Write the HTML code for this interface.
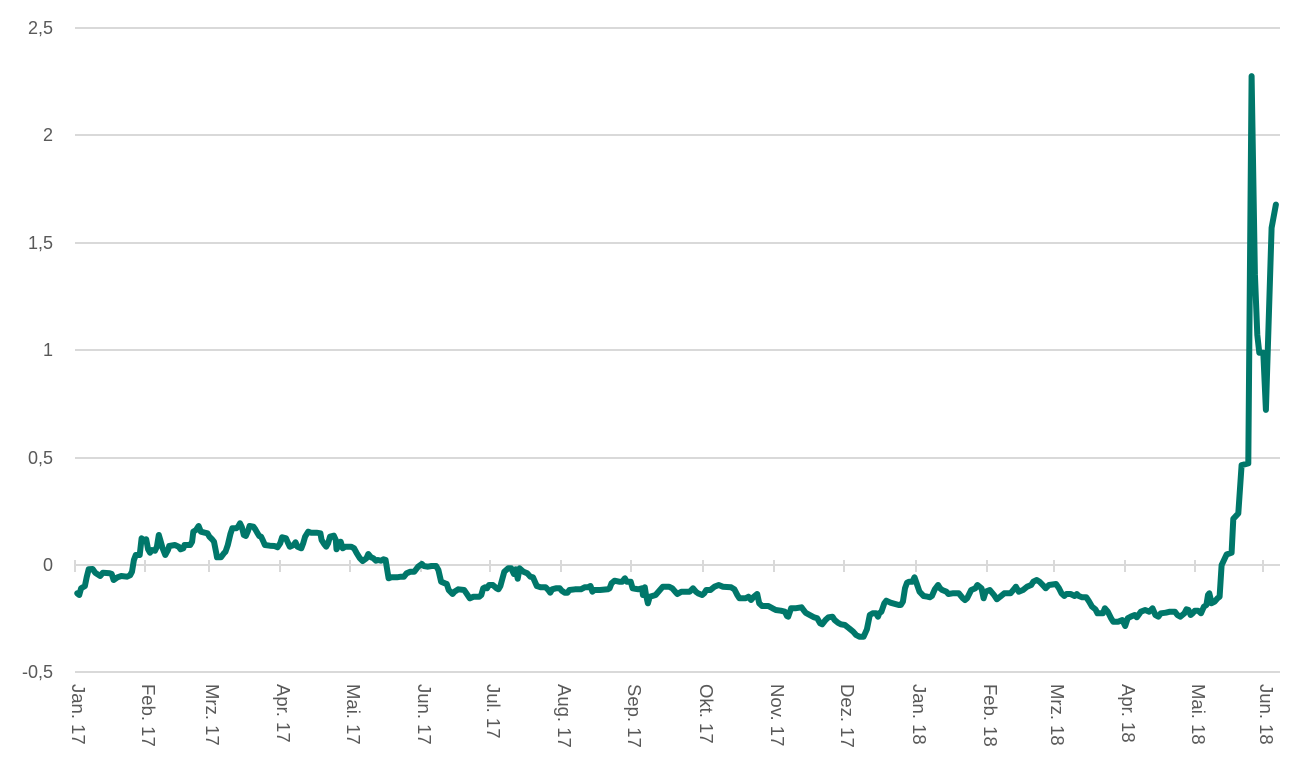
<!DOCTYPE html>
<html><head><meta charset="utf-8"><style>
html,body{margin:0;padding:0;background:#fff;}
svg{display:block;font-family:"Liberation Sans",sans-serif;}
</style></head><body>
<svg id="c" width="1303" height="781" viewBox="0 0 1303 781" xmlns="http://www.w3.org/2000/svg">
<g stroke="#d9d9d9" stroke-width="2">
<line x1="75" y1="28" x2="1280" y2="28"/>
<line x1="75" y1="135" x2="1280" y2="135"/>
<line x1="75" y1="243" x2="1280" y2="243"/>
<line x1="75" y1="350" x2="1280" y2="350"/>
<line x1="75" y1="458" x2="1280" y2="458"/>
<line x1="75" y1="565" x2="1280" y2="565"/>
<line x1="75" y1="672" x2="1280" y2="672"/>
</g>
<g id="ticks" stroke="#d9d9d9" stroke-width="2"></g>
<g fill="#595959" font-size="18" text-anchor="end">
<text x="53" y="34">2,5</text>
<text x="53" y="141">2</text>
<text x="53" y="249">1,5</text>
<text x="53" y="356">1</text>
<text x="53" y="464">0,5</text>
<text x="53" y="571">0</text>
<text x="53" y="678">-0,5</text>
</g>
<g id="xl" fill="#595959" font-size="18.5"></g>
<polyline id="ln" fill="none" stroke="#00776a" stroke-width="6" stroke-linejoin="round" stroke-linecap="round"/>
</svg>
<script>
var z1=[45,280,50,285,55,265,65,258,70,230,75,208,85,207,92,218,105,228,112,218,130,220,135,222,140,240,150,232,160,228,175,230,183,226,188,215,193,180,198,165,208,165,213,115,218,120,225,118,230,148,235,158,240,150,248,152,253,140,258,105,262,120,268,145,275,165,282,150,285,138,300,135,310,140,315,148,322,145,325,135,340,135,345,125,348,95,355,90,362,78,368,95,378,98,385,100,390,110,397,118,402,125,408,160,410,172,420,172,428,160,432,155,438,135,445,102,450,85,460,85,465,80,470,70,475,82,480,105,485,108,490,95,495,78,505,80,510,88,515,98,520,108,525,110,530,122,535,135,548,137,560,138,568,142,575,130,580,112,590,115,595,128,600,140,610,135,615,127,620,140,630,145,635,130,640,110,648,95,655,98,660,98,670,98,680,100,683,120,690,133,695,140,700,130,705,110,715,107,720,120,722,148,728,135,733,125,738,145,745,140,760,140,768,145,775,160,783,175,790,183,800,175,805,162,812,172,818,175,825,182,830,180,838,182,845,178,850,180,855,215,858,235,865,232,880,232,890,230,898,230,905,220,915,215,925,215,935,200,945,192,950,198,960,200,970,198,982,198,988,210,995,245,1005,250,1010,252,1015,270,1025,282,1030,275,1040,268,1055,270,1060,278,1070,295,1080,290,1095,290,1100,285,1105,265,1110,262,1115,265,1120,255,1130,255,1140,265,1145,268,1150,258,1160,215,1170,205,1178,205,1185,222,1190,208,1195,236,1200,205,1210,215,1220,220,1228,230,1235,232,1240,245,1245,258,1255,262,1268,262,1275,270,1280,278,1285,268,1295,265,1305,265,1310,272,1318,278,1325,278,1330,270,1345,268,1360,268,1370,262,1378,262,1385,258,1390,275,1395,270,1410,270,1430,268,1435,265,1440,250,1448,242,1460,245,1468,245,1475,235,1480,245,1490,245,1495,265,1510,268,1520,265,1522,285,1527,262,1530,285,1535,310,1540,290,1555,285];
var z2=[55,140,70,140,78,145,85,155,90,162,100,155,120,155,128,145,135,155,140,160,150,165,155,160,160,150,170,150,180,140,190,135,200,140,220,142,228,148,235,165,240,175,255,175,262,170,268,180,275,170,283,162,288,190,295,198,310,198,320,205,328,210,340,212,350,215,355,228,358,230,365,205,375,205,390,202,395,210,400,218,410,225,420,232,428,235,435,250,440,253,448,240,455,232,465,230,470,240,478,248,485,253,495,255,505,265,515,275,522,285,530,290,540,290,548,268,555,225,562,220,570,220,575,230,578,220,583,215,590,190,595,182,605,188,625,195,630,195,635,185,640,145,645,128,650,125,658,125,663,112,668,130,675,155,685,168,695,170,700,172,705,168,712,148,720,135,725,145,730,150,740,155,745,162,755,160,770,160,780,175,785,180,790,175,800,150,810,145,815,135,825,145,830,175,835,155,845,150,855,165,862,178,870,170,880,160,895,160,905,145,908,140,915,155,925,150,935,140,945,135,950,125,958,120,965,125,975,138,980,145,988,135,1005,132,1012,145,1018,160,1025,168,1030,162,1040,162,1050,168,1055,162,1060,168,1068,172,1078,172,1085,185,1092,200,1100,208,1105,220,1118,220,1123,205,1130,215,1138,235,1143,245,1155,245,1165,240,1172,258,1178,235,1185,230,1195,225,1200,232,1210,215,1220,210,1230,215,1238,205,1245,225,1252,230,1258,220,1270,218,1280,215,1292,215,1298,225,1305,230,1315,220,1320,208,1325,210,1330,225,1335,220,1340,212,1348,212,1355,220,1362,200,1368,195,1372,165,1375,160,1378,175,1380,190,1388,185,1395,175,1400,170];
var z3=[125,1415,140,1385,155,1380,160,1285,175,1270,185,1135,205,1130,210,600,215,45,225,600,232,770,238,820,250,820,258,980,275,470,288,405];
var pts=[];
for(var i=0;i<z1.length;i+=2)pts.push([60+z1[i]*0.383,500+z1[i+1]/3]);
for(var i=0;i<z2.length;i+=2)pts.push([640+z2[i]*0.414,540+z2[i+1]/3]);
for(var i=0;i<z3.length;i+=2)pts.push([1180+z3[i]*0.333,135+(z3[i+1]-210)*0.357]);
document.getElementById('ln').setAttribute('points',pts.map(function(p){return p[0].toFixed(1)+','+p[1].toFixed(1);}).join(' '));
var lx=[78,148,212,283,353,424,493,564,634,706,777,847,919,990,1057,1128,1198,1266];
var lb=["Jan. 17","Feb. 17","Mrz. 17","Apr. 17","Mai. 17","Jun. 17","Jul. 17","Aug. 17","Sep. 17","Okt. 17","Nov. 17","Dez. 17","Jan. 18","Feb. 18","Mrz. 18","Apr. 18","Mai. 18","Jun. 18"];
var ns="http://www.w3.org/2000/svg",g=document.getElementById('xl'),tg=document.getElementById('ticks');
for(var i=0;i<lx.length;i++){
 var t=document.createElementNS(ns,'text');t.setAttribute('transform','translate('+(lx[i]-6)+',684) rotate(90)');t.textContent=lb[i];g.appendChild(t);
 var l=document.createElementNS(ns,'line');l.setAttribute('x1',lx[i]-3);l.setAttribute('x2',lx[i]-3);l.setAttribute('y1',560);l.setAttribute('y2',572);tg.appendChild(l);
}
</script>
</body></html>
